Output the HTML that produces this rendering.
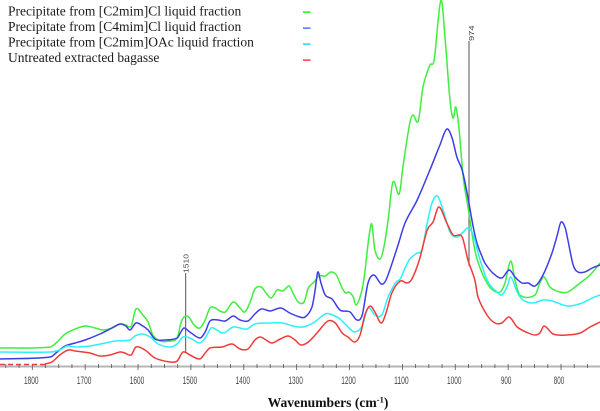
<!DOCTYPE html>
<html lang="en">
<head>
<meta charset="utf-8">
<title>FTIR spectra of bagasse precipitates</title>
<style>
html,body{margin:0;padding:0;background:#fff;}
#chart{display:block;width:600px;height:411px;overflow:hidden;}
.legend-text{font-family:"Liberation Serif",serif;font-size:13.5px;fill:#1a1a1a;}
.tick-label{font-family:"Liberation Sans",sans-serif;font-size:11px;fill:#444;text-anchor:middle;}
.peak-label{font-family:"Liberation Sans",sans-serif;font-size:7px;fill:#444;text-anchor:start;}
.axis-title{font-family:"Liberation Serif",serif;font-size:13.6px;font-weight:bold;fill:#111;text-anchor:middle;}
</style>
</head>
<body>
<svg id="chart" xmlns="http://www.w3.org/2000/svg" width="600" height="411" viewBox="0 0 600 411">
  <rect x="0" y="0" width="600" height="411" fill="#fff"/>
  <g id="axis-layer"></g>
  <g id="peak-layer"></g>
  <g id="series-layer"></g>
  <g>
    <g>
      <text class="legend-text" x="8" y="15.4">Precipitate from [C2mim]Cl liquid fraction</text>
      <rect x="303" y="11.4" width="7.5" height="1.5" fill="#22ee22"/>
    </g>
    <g>
      <text class="legend-text" x="8" y="30.8">Precipitate from [C4mim]Cl liquid fraction</text>
      <rect x="303" y="27.4" width="7.5" height="1.5" fill="#3f7fe0"/>
    </g>
    <g>
      <text class="legend-text" x="8" y="46.6">Precipitate from [C2mim]OAc liquid fraction</text>
      <rect x="303" y="43.4" width="7.5" height="1.5" fill="#33ccff"/>
    </g>
    <g>
      <text class="legend-text" x="8" y="62">Untreated extracted bagasse</text>
      <rect x="303" y="59.4" width="7.5" height="1.5" fill="#f03a4a"/>
    </g>
  </g>
  <text class="axis-title" x="328" y="407">Wavenumbers (cm<tspan font-size="8.5" dy="-4.5">-1</tspan><tspan dy="4.5">)</tspan></text>
</svg>
<script>
// Tick and annotation data
var majorTickValues = [1800, 1700, 1600, 1500, 1400, 1300, 1200, 1100, 1000, 900, 800];
var peakValues = [1510, 974];

// [C2mim]Cl precipitate
var greenWavenumbers = [1861,1766,1753,1738,1719,1700,1681,1666,1649,1634,1623,1613,1604,1591,1581,1572,1558,1539,1526,1519,1513,1504,1494,1483,1473,1464,1454,1445,1435,1420,1407,1398,1388,1379,1367,1358,1348,1337,1326,1314,1307,1297,1286,1278,1267,1258,1246,1235,1225,1214,1207,1201,1193,1188,1180,1173,1159,1152,1142,1135,1127,1118,1106,1099,1086,1080,1070,1061,1048,1040,1027,1019,1010,1004,999,993,985,976,963,953,940,929,915,906,895,887,878,849,840,832,821,802,787,764,745,726];
var greenAbsorbance = [18,19,24,32,37,40,38,36,38,42,41,40,57,51,44,31,25,25,28,43,49,49,41,38,46,58,58,55,54,64,58,54,64,77,79,73,68,76,75,80,73,64,64,78,84,90,90,94,91,78,73,74,69,61,69,86,142,116,107,119,146,184,172,199,243,251,245,279,301,306,366,326,266,248,259,238,189,159,116,98,83,76,74,83,105,86,71,71,83,89,79,74,74,83,91,103];

// [C4mim]Cl precipitate
var blueWavenumbers = [1861,1766,1753,1738,1719,1700,1672,1653,1634,1623,1615,1604,1591,1581,1568,1549,1526,1519,1513,1502,1483,1473,1464,1449,1435,1420,1407,1392,1379,1367,1350,1330,1313,1294,1284,1271,1265,1260,1254,1246,1233,1218,1199,1186,1176,1165,1154,1140,1131,1110,1095,1072,1048,1029,1016,1006,997,987,978,966,959,949,944,929,912,898,887,874,862,849,834,817,807,800,792,787,777,768,755,741,726];
var blueAbsorbance = [7,9,14,20,23,26,32,37,42,40,36,43,40,36,27,26,28,34,38,34,28,34,45,46,45,50,46,45,52,57,55,58,53,49,49,59,76,94,83,71,67,56,54,46,51,83,91,82,86,118,143,166,196,221,237,228,209,196,174,139,123,109,103,93,88,96,89,83,83,80,91,113,131,144,138,126,101,94,94,98,101];

// [C2mim]OAc precipitate
var cyanWavenumbers = [1861,1766,1748,1734,1719,1691,1662,1643,1615,1606,1592,1577,1562,1539,1526,1515,1502,1483,1473,1462,1454,1439,1420,1407,1394,1379,1350,1326,1307,1288,1269,1246,1237,1218,1203,1190,1176,1165,1152,1139,1127,1112,1104,1095,1086,1072,1063,1053,1044,1034,1023,1010,997,985,976,966,953,938,921,912,902,895,883,872,853,834,817,796,783,760,741,726];
var cyanAbsorbance = [14,14,16,20,19,20,23,25,26,30,32,29,22,19,22,29,28,23,28,38,37,33,39,38,37,42,43,43,40,39,43,52,52,47,39,34,40,58,51,51,69,84,87,98,107,113,116,143,163,170,156,134,129,134,138,131,106,84,74,71,79,89,74,66,63,66,65,61,60,63,68,71];

// Untreated extracted bagasse
var redWavenumbers = [1776,1763,1748,1732,1719,1691,1672,1653,1634,1625,1613,1604,1587,1568,1539,1526,1515,1502,1483,1473,1464,1441,1422,1407,1392,1379,1369,1358,1347,1331,1316,1303,1292,1278,1260,1241,1227,1214,1203,1190,1180,1171,1161,1152,1140,1131,1120,1104,1091,1082,1068,1053,1042,1031,1016,1004,987,976,963,957,940,925,912,898,883,862,849,840,832,815,789,764,745,726];
var redAbsorbance = [2,4,11,16,15,13,10,11,14,13,11,19,16,8,4,5,14,11,7,13,18,19,22,17,17,26,29,26,23,27,30,26,21,24,34,45,43,33,29,24,31,51,60,54,43,53,73,85,83,87,106,136,144,159,143,131,129,106,86,69,51,43,43,49,39,33,31,33,40,32,31,33,39,44];
var redBaselineWavenumbers = [1861,1776];
var redBaselineAbsorbance = [1.5,1.5];

// Axis functions
function xScale(wavenumber) { return 561 + (800 - wavenumber) * 0.5287; }
function yScale(absorbance) { return 366 - absorbance; }

var SVG_NS = 'http://www.w3.org/2000/svg';

function smoothPath(wavenumbers, values) {
  var pts = [];
  for (var i = 0; i < wavenumbers.length; i++) {
    pts.push([xScale(wavenumbers[i]), yScale(values[i])]);
  }
  function slope(k) {
    var a = pts[Math.max(k - 1, 0)];
    var b = pts[Math.min(k + 1, pts.length - 1)];
    return (b[1] - a[1]) / (b[0] - a[0]);
  }
  var d = 'M' + pts[0][0].toFixed(2) + ' ' + pts[0][1].toFixed(2);
  for (var j = 0; j < pts.length - 1; j++) {
    var p1 = pts[j];
    var p2 = pts[j + 1];
    var dx = (p2[0] - p1[0]) / 3;
    var c1x = p1[0] + dx;
    var c1y = p1[1] + slope(j) * dx;
    var c2x = p2[0] - dx;
    var c2y = p2[1] - slope(j + 1) * dx;
    d += 'C' + c1x.toFixed(2) + ' ' + c1y.toFixed(2) + ' ' + c2x.toFixed(2) + ' ' + c2y.toFixed(2) + ' ' + p2[0].toFixed(2) + ' ' + p2[1].toFixed(2);
  }
  return d;
}

var seriesLayer = document.getElementById('series-layer');

function drawSeries(wavenumbers, values, color, name, dash) {
  var path = document.createElementNS(SVG_NS, 'path');
  path.setAttribute('d', smoothPath(wavenumbers, values));
  path.setAttribute('fill', 'none');
  path.setAttribute('stroke', color);
  path.setAttribute('stroke-width', '1.5');
  path.setAttribute('stroke-linejoin', 'round');
  if (dash) { path.setAttribute('stroke-dasharray', dash); }
  
  
  seriesLayer.appendChild(path);
}

drawSeries(greenWavenumbers, greenAbsorbance, '#3fee3f', 'series-c2mim-cl');
drawSeries(blueWavenumbers, blueAbsorbance, '#3d3de6', 'series-c4mim-cl');
drawSeries(cyanWavenumbers, cyanAbsorbance, '#2ef0fa', 'series-c2mim-oac');
drawSeries(redWavenumbers, redAbsorbance, '#f03a3a', 'series-untreated-bagasse');
drawSeries(redBaselineWavenumbers, redBaselineAbsorbance, '#f03a3a', 'series-untreated-bagasse-baseline', '5 3');

// Peak annotations
var peakLayer = document.getElementById('peak-layer');
var peakTops = { 1510: 273, 974: 41 };
var peakBottoms = { 1510: 352, 974: 266 };
var peakLabelOffsets = { 1510: 2.8, 974: 4.8 };
var peakLabelLengths = { 1510: 19, 974: 15.5 };
peakValues.forEach(function (peak) {
  var px = xScale(peak);
  var line = document.createElementNS(SVG_NS, 'line');
  line.setAttribute('x1', px);
  line.setAttribute('x2', px);
  line.setAttribute('y1', peakTops[peak]);
  line.setAttribute('y2', peakBottoms[peak]);
  line.setAttribute('stroke', '#707070');
  line.setAttribute('stroke-width', '1.2');
  
  
  peakLayer.appendChild(line);
  var label = document.createElementNS(SVG_NS, 'text');
  label.setAttribute('class', 'peak-label');
  label.setAttribute('transform', 'translate(' + (px + peakLabelOffsets[peak]) + ' ' + peakTops[peak] + ') rotate(-90)');
  label.setAttribute('textLength', peakLabelLengths[peak]);
  label.setAttribute('lengthAdjust', 'spacingAndGlyphs');
  label.textContent = String(peak);
  
  
  peakLayer.appendChild(label);
});

// X axis
var axisLayer = document.getElementById('axis-layer');
var axisLine = document.createElementNS(SVG_NS, 'rect');
axisLine.setAttribute('x', 0);
axisLine.setAttribute('y', 365.5);
axisLine.setAttribute('width', 600);
axisLine.setAttribute('height', 2);
axisLine.setAttribute('fill', '#b4b4b4');


axisLayer.appendChild(axisLine);

for (var w = 1850; w >= 725; w -= 25) {
  var isMajor = w % 100 === 0;
  var tick = document.createElementNS(SVG_NS, 'line');
  tick.setAttribute('x1', xScale(w));
  tick.setAttribute('x2', xScale(w));
  tick.setAttribute('y1', 364);
  tick.setAttribute('y2', isMajor ? 370 : 368);
  tick.setAttribute('stroke', '#555');
  tick.setAttribute('stroke-width', '0.8');
  
  
  axisLayer.appendChild(tick);
}

majorTickValues.forEach(function (value) {
  var text = String(value);
  var label = document.createElementNS(SVG_NS, 'text');
  label.setAttribute('class', 'tick-label');
  label.setAttribute('x', xScale(value) - (text.length === 3 ? 2 : 1));
  label.setAttribute('y', 384);
  label.setAttribute('textLength', text.length === 3 ? 10.5 : 14.5);
  label.setAttribute('lengthAdjust', 'spacingAndGlyphs');
  label.textContent = text;
  
  
  axisLayer.appendChild(label);
});
</script>
</body>
</html>
